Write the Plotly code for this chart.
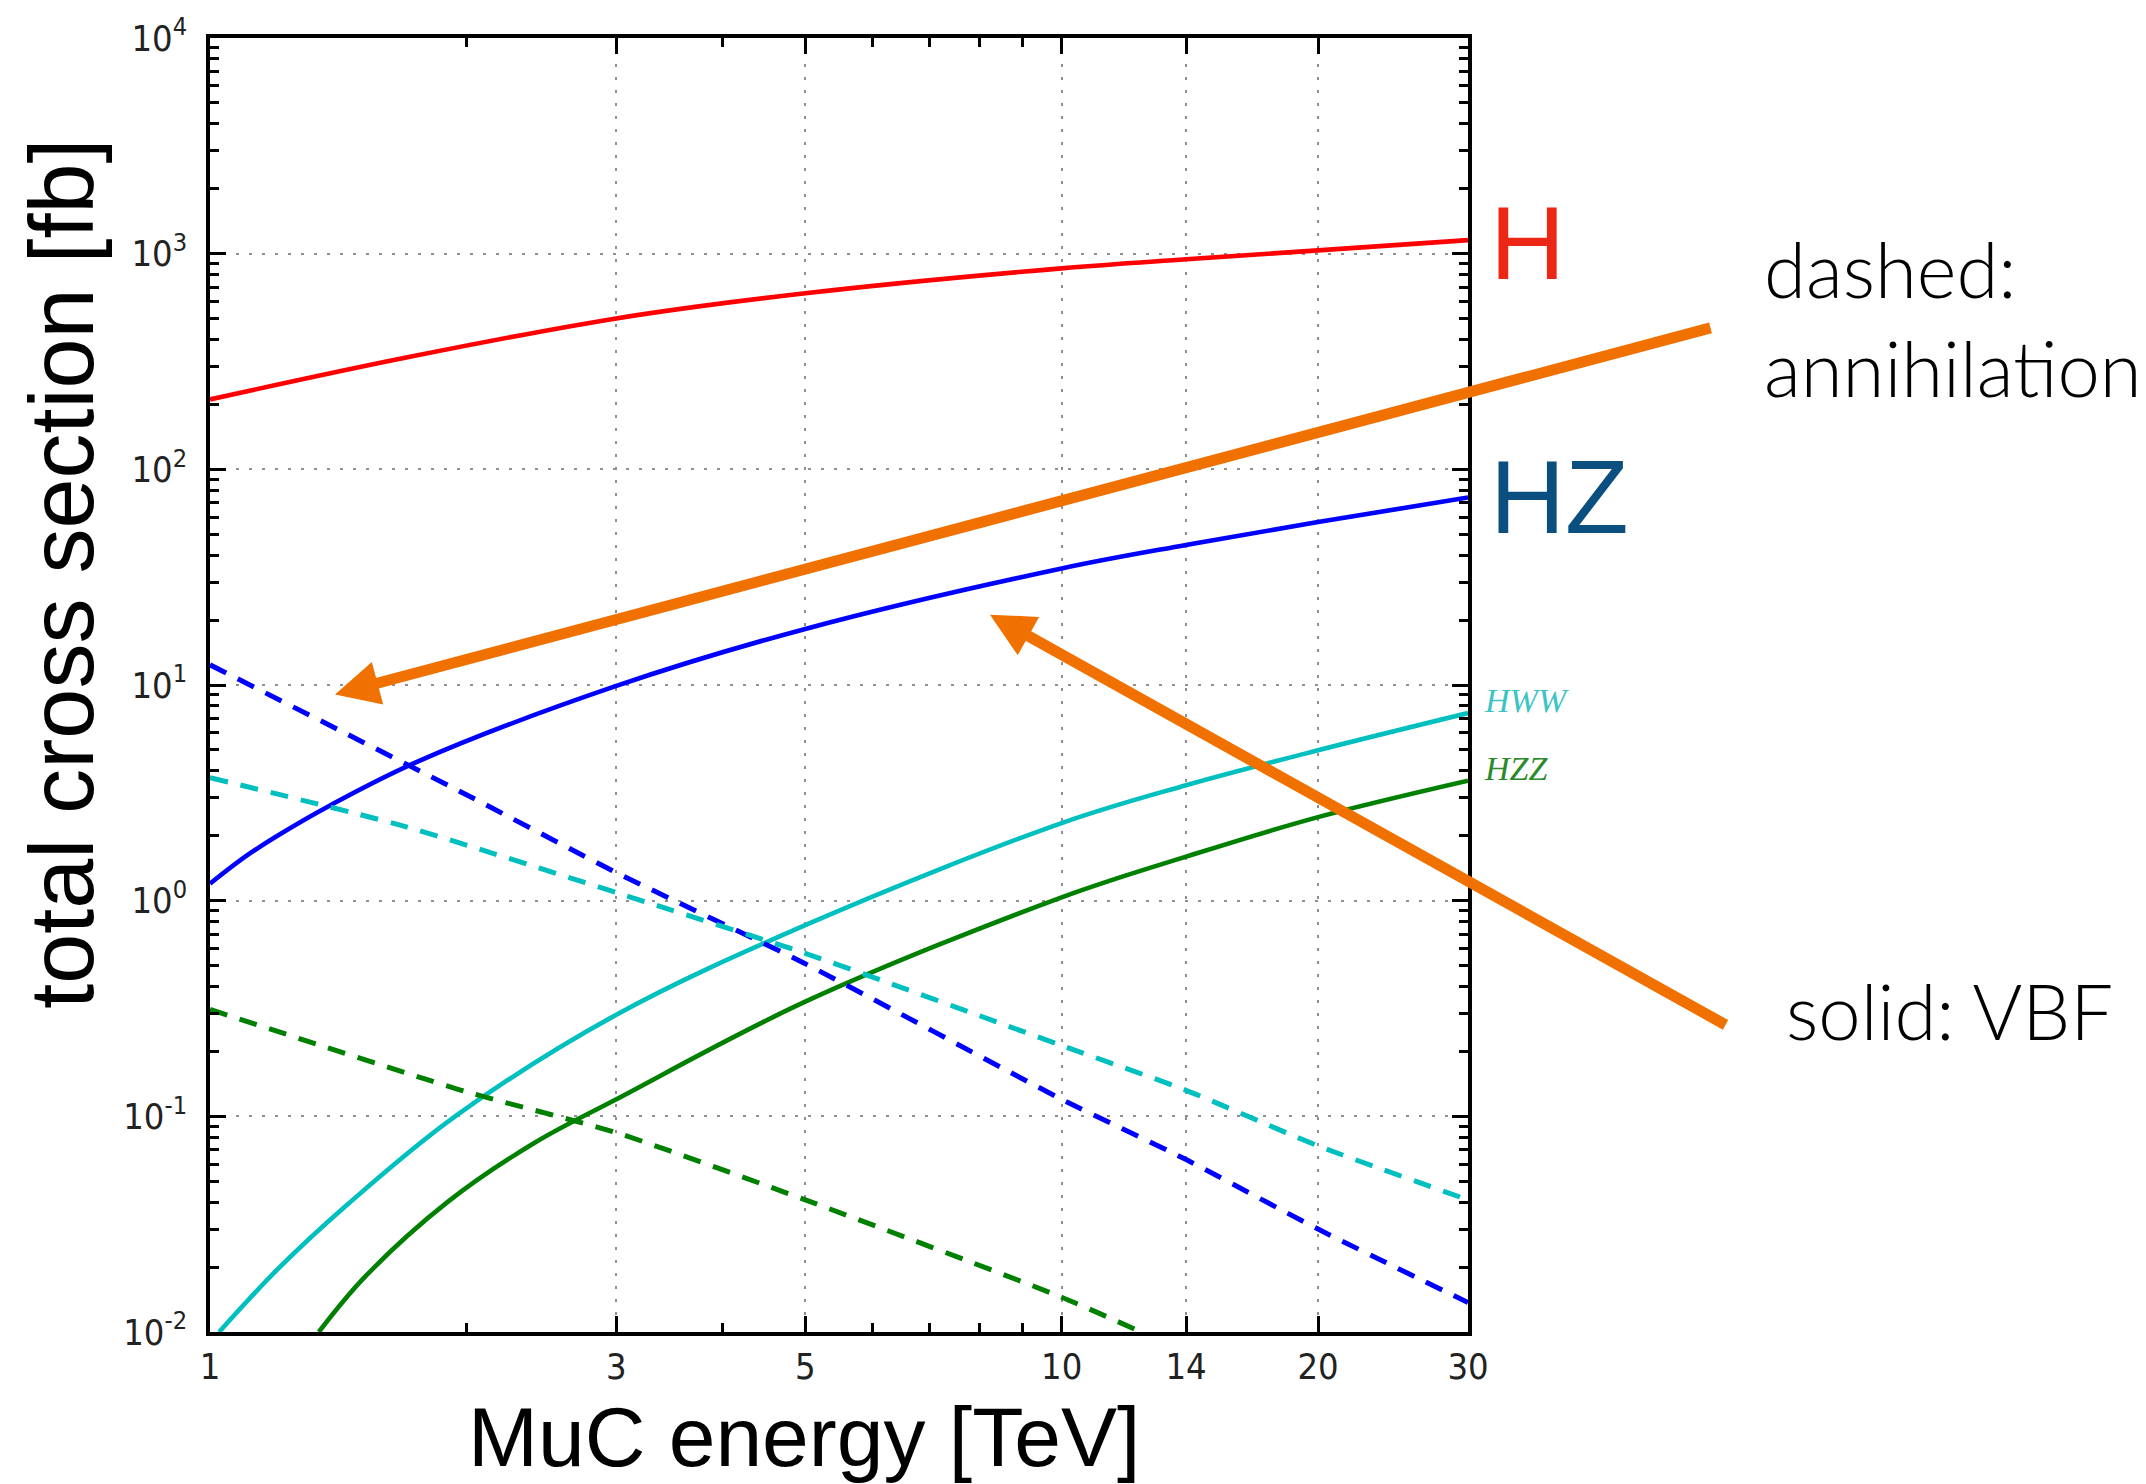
import plotly.graph_objects as go
import math

# ---------------- data ----------------
# VBF (solid)
E_H = [1, 1.7, 3, 5, 10, 14, 20, 30]
sig_H = [211, 330, 501, 655, 855, 942, 1036, 1156]

E_HZ_vbf = [1, 1.1, 1.2, 1.38, 1.75, 3, 5, 10, 14, 20, 30]
sig_HZ_vbf = [1.2, 1.6, 2.0, 2.75, 4.4, 9.9, 18.2, 34.7, 44.6, 57, 74]

E_HWW_vbf = [1.025, 1.2, 1.45, 1.94, 3, 5, 10, 14, 20, 30]
sig_HWW_vbf = [0.01, 0.0195, 0.039, 0.1, 0.296, 0.77, 2.29, 3.43, 4.98, 7.41]

E_HZZ_vbf = [1.342, 1.52, 1.9, 2.4, 3, 5, 10, 14, 20, 30]
sig_HZZ_vbf = [0.01, 0.018, 0.04, 0.075, 0.12, 0.34, 1.036, 1.6, 2.44, 3.6]

# annihilation (dashed)
E_HZ_ann = [1, 2, 3, 5, 10, 14, 20, 30]
sig_HZ_ann = [12.4, 3.1, 1.35, 0.51, 0.12, 0.063, 0.030, 0.0137]

E_HWW_ann = [1, 1.7, 3, 5, 10, 14, 20, 30]
sig_HWW_ann = [3.72, 2.2, 1.09, 0.57, 0.213, 0.132, 0.073, 0.041]

E_HZZ_ann = [1, 2, 3, 5, 10, 12.4]
sig_HZZ_ann = [0.313, 0.13, 0.084, 0.041, 0.0145, 0.01]

x_ticks = [1, 3, 5, 10, 14, 20, 30]
x_ticktext = ["1", "3", "5", "10", "14", "20", "30"]
x_minor = [2, 4, 6, 7, 8, 9]
y_exps = [-2, -1, 0, 1, 2, 3, 4]

# ---------------- layout geometry ----------------
W, H = 2146, 1484
L, R, T, B = 210, 1468, 35, 1332


def px(xp):
    return (xp - L) / (R - L)


def py(yp):
    return (B - yp) / (B - T)


fig = go.Figure()

red, blue, cyan, green = "#ff0000", "#0000ff", "#00bfbf", "#008000"
dash = "18px,13px"
lw = 4.6

for xs, ys, col in [(E_H, sig_H, red), (E_HZ_vbf, sig_HZ_vbf, blue),
                    (E_HWW_vbf, sig_HWW_vbf, cyan), (E_HZZ_vbf, sig_HZZ_vbf, green)]:
    fig.add_trace(go.Scatter(x=xs, y=ys, mode="lines",
                             line=dict(color=col, width=lw, shape="spline", smoothing=1.0)))
for xs, ys, col in [(E_HZ_ann, sig_HZ_ann, blue), (E_HWW_ann, sig_HWW_ann, cyan),
                    (E_HZZ_ann, sig_HZZ_ann, green)]:
    fig.add_trace(go.Scatter(x=xs, y=ys, mode="lines",
                             line=dict(color=col, width=lw + 0.4, dash=dash,
                                       shape="spline", smoothing=0.6)))

y_minor = [m * 10 ** e for e in y_exps[:-1] for m in range(2, 10)]

tickfont = dict(family="DejaVu Sans Condensed, DejaVu Sans", size=36, color="#222222")

fig.update_xaxes(
    type="log", range=[0, math.log10(30)],
    tickmode="array", tickvals=x_ticks, ticktext=x_ticktext,
    ticks="inside", ticklen=16, tickwidth=3, tickcolor="black",
    showline=True, linecolor="black", linewidth=3.5, mirror="ticks",
    showgrid=True, gridcolor="#8f8f8f", gridwidth=2, griddash="3px,10px",
    zeroline=False, tickfont=tickfont, ticklabelstandoff=0,
    minor=dict(tickmode="array", tickvals=x_minor, ticks="inside", ticklen=9,
               tickwidth=2.5, tickcolor="black", showgrid=False),
)
fig.update_yaxes(
    type="log", range=[-2, 4],
    tickmode="array", tickvals=[10 ** e for e in y_exps],
    ticktext=["10<sup>%d</sup>" % e for e in y_exps],
    ticks="inside", ticklen=16, tickwidth=3, tickcolor="black",
    showline=True, linecolor="black", linewidth=3.5, mirror="ticks",
    showgrid=True, gridcolor="#8f8f8f", gridwidth=2, griddash="3px,10px",
    zeroline=False, tickfont=tickfont, ticklabelstandoff=12,
    minor=dict(tickmode="array", tickvals=y_minor, ticks="inside", ticklen=9,
               tickwidth=2.5, tickcolor="black", showgrid=False),
)

ann = []
# axis titles
ann.append(dict(text="MuC energy [TeV]", xref="paper", yref="paper",
                x=px(804), y=py(1437), xanchor="center", yanchor="middle",
                showarrow=False, font=dict(family="Liberation Sans", size=84, color="black")))
ann.append(dict(text="total cross section [fb]", xref="paper", yref="paper",
                x=px(62), y=py(572), xanchor="center", yanchor="middle", textangle=-90,
                showarrow=False, font=dict(family="Liberation Sans", size=90, color="black")))
# process labels
ann.append(dict(text="H", xref="paper", yref="paper", x=px(1488), y=py(240),
                xanchor="left", yanchor="middle", showarrow=False,
                font=dict(family="Liberation Sans", size=104, color="#ec2716")))
ann.append(dict(text="HZ", xref="paper", yref="paper", x=px(1488), y=py(495),
                xanchor="left", yanchor="middle", showarrow=False,
                font=dict(family="Liberation Sans", size=104, color="#0b4f80")))
ann.append(dict(text="<i>HWW</i>", xref="paper", yref="paper", x=px(1482), y=py(699),
                xanchor="left", yanchor="middle", showarrow=False,
                font=dict(family="Liberation Serif", size=34, color="#3cc4c4")))
ann.append(dict(text="<i>HZZ</i>", xref="paper", yref="paper", x=px(1482), y=py(767),
                xanchor="left", yanchor="middle", showarrow=False,
                font=dict(family="Liberation Serif", size=34, color="#2a8a2a")))
# notes
note_font = dict(family="Lato, Roboto", size=76, color="black", weight=300)
ann.append(dict(text="dashed:<br>annihilation", xref="paper", yref="paper",
                x=px(1762), y=py(316), xanchor="left", yanchor="middle", align="left",
                showarrow=False, font=note_font))
ann.append(dict(text="solid: VBF", xref="paper", yref="paper",
                x=px(1784), y=py(1010), xanchor="left", yanchor="middle",
                showarrow=False, font=note_font))
# arrows
orange = "#f07100"
for tip, tail in [((335, 693), (1712, 326)), ((990, 613), (1727, 1024))]:
    ann.append(dict(text="", xref="paper", yref="paper", x=px(tip[0]), y=py(tip[1]),
                    axref="pixel", ayref="pixel", ax=tail[0] - tip[0], ay=tail[1] - tip[1],
                    showarrow=True, arrowhead=2, arrowsize=0.8, arrowwidth=11,
                    arrowcolor=orange, standoff=0, startstandoff=0))

fig.update_layout(
    width=W, height=H,
    margin=dict(l=L, r=W - R, t=T, b=H - B, pad=0),
    paper_bgcolor="white", plot_bgcolor="white",
    showlegend=False, annotations=ann,
)

fig.write_html("out.html")
